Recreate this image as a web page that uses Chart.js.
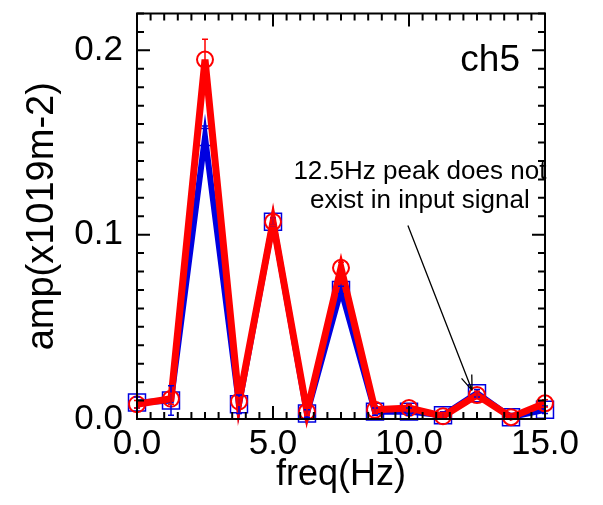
<!DOCTYPE html>
<html>
<head>
<meta charset="utf-8">
<script src="https://cdn.jsdelivr.net/npm/chart.js@4.4.0/dist/chart.umd.min.js"></script>
<style>
  html, body { margin: 0; padding: 0; background: #fff; }
  #wrap { width: 603px; height: 505px; }
</style>
</head>
<body>
<div id="wrap"><canvas id="ampChart" width="603" height="505"></canvas></div>
<script>
// frequencies (Hz)
const freqs = [0, 1.25, 2.5, 3.75, 5, 6.25, 7.5, 8.75, 10, 11.25, 12.5, 13.75, 15];
// red circles
const redAmp = [0.008, 0.011, 0.195, 0.0095, 0.107, 0.004, 0.082, 0.005, 0.006, 0.0015, 0.013, 0.001, 0.0085];
const redErr = [0.002, 0.003, 0.011, 0.002, 0.002, 0.002, 0.003, 0.002, 0.002, 0.002, 0.002, 0.002, 0.002];
// blue squares
const blueAmp = [0.009, 0.010, 0.153, 0.008, 0.107, 0.003, 0.070, 0.004, 0.004, 0.002, 0.014, 0.001, 0.005];
const blueErr = [0.003, 0.008, 0.006, 0.005, 0.002, 0.002, 0.002, 0.002, 0.002, 0.002, 0.002, 0.002, 0.002];

const xTicks = [0, 5, 10, 15];
const yTicks = [0, 0.1, 0.2];

const FONT = "'Liberation Sans', Arial, sans-serif";

function toPts(xs, ys) {
  return xs.map((x, i) => ({ x: x, y: ys[i] }));
}

// error bars, drawn through the scales
const errorBars = {
  id: 'errorBars',
  afterDatasetsDraw(chart) {
    const ctx = chart.ctx;
    const xs = chart.scales.x, ys = chart.scales.y;
    chart.data.datasets.forEach(ds => {
      if (!ds.errors) return;
      ctx.save();
      ctx.strokeStyle = ds.borderColor;
      ctx.lineWidth = 1.5;
      ds.data.forEach((p, i) => {
        const px = xs.getPixelForValue(p.x);
        const top = ys.getPixelForValue(p.y + ds.errors[i]);
        const bot = ys.getPixelForValue(Math.max(0, p.y - ds.errors[i]));
        ctx.beginPath();
        ctx.moveTo(px, top); ctx.lineTo(px, bot);
        ctx.moveTo(px - 3, top); ctx.lineTo(px + 3, top);
        ctx.moveTo(px - 3, bot); ctx.lineTo(px + 3, bot);
        ctx.stroke();
      });
      ctx.restore();
    });
  }
};

// box frame with inward ticks on all sides, plus the notes
const frame = {
  id: 'frame',
  afterDraw(chart) {
    const ctx = chart.ctx;
    const a = chart.chartArea;
    const xs = chart.scales.x, ys = chart.scales.y;
    ctx.save();
    ctx.strokeStyle = '#000';
    ctx.lineWidth = 2;
    ctx.strokeRect(a.left, a.top, a.right - a.left, a.bottom - a.top);
    ctx.beginPath();
    for (let k = 0; k <= 30; k++) {
      const v = k * 0.5;
      const px = xs.getPixelForValue(v);
      const len = k % 10 === 0 ? 13 : 7;
      ctx.moveTo(px, a.bottom); ctx.lineTo(px, a.bottom - len);
      ctx.moveTo(px, a.top); ctx.lineTo(px, a.top + len);
    }
    for (let k = 0; k <= 22; k++) {
      const py = ys.getPixelForValue(k * 0.01);
      const len = k % 10 === 0 ? 13 : 7;
      ctx.moveTo(a.left, py); ctx.lineTo(a.left + len, py);
      ctx.moveTo(a.right, py); ctx.lineTo(a.right - len, py);
    }
    ctx.stroke();

    // channel label
    ctx.fillStyle = '#000';
    ctx.font = '37px ' + FONT;
    ctx.textAlign = 'right';
    ctx.textBaseline = 'alphabetic';
    ctx.fillText('ch5', a.right - 25, a.top + 57);

    // note
    ctx.font = '26px ' + FONT;
    ctx.textAlign = 'center';
    const nx = xs.getPixelForValue(10.4);
    ctx.fillText('12.5Hz peak does not', nx, ys.getPixelForValue(0.130));
    ctx.fillText('exist in input signal', nx, ys.getPixelForValue(0.1145));

    // arrow to the 12.5 Hz point
    const x0 = xs.getPixelForValue(9.96), y0 = ys.getPixelForValue(0.105);
    const x1 = xs.getPixelForValue(12.32), y1 = ys.getPixelForValue(0.0155);
    ctx.lineWidth = 1.3;
    ctx.beginPath();
    ctx.moveTo(x0, y0); ctx.lineTo(x1, y1);
    const ang = Math.atan2(y1 - y0, x1 - x0);
    const hl = 16;
    ctx.moveTo(x1, y1); ctx.lineTo(x1 - hl * Math.cos(ang - 0.35), y1 - hl * Math.sin(ang - 0.35));
    ctx.moveTo(x1, y1); ctx.lineTo(x1 - hl * Math.cos(ang + 0.35), y1 - hl * Math.sin(ang + 0.35));
    ctx.stroke();
    ctx.restore();
  }
};

new Chart(document.getElementById('ampChart'), {
  type: 'line',
  data: {
    datasets: [
      {
        label: 'blue',
        data: toPts(freqs, blueAmp),
        errors: blueErr,
        borderColor: '#0000e0',
        backgroundColor: 'rgba(0,0,0,0)',
        borderWidth: 6,
        pointStyle: 'rect',
        pointRadius: 12,
        pointBorderWidth: 1.5,
        pointBorderColor: '#0000e0',
        clip: false,
        order: 2
      },
      {
        label: 'red',
        data: toPts(freqs, redAmp),
        errors: redErr,
        borderColor: '#ff0000',
        backgroundColor: 'rgba(0,0,0,0)',
        borderWidth: 7,
        pointStyle: 'circle',
        pointRadius: 8,
        pointBorderWidth: 2,
        pointBorderColor: '#ff0000',
        clip: false,
        order: 1
      }
    ]
  },
  options: {
    responsive: false,
    animation: false,
    layout: { padding: { left: 0, right: 58, top: 13, bottom: 0 } },
    plugins: { legend: { display: false }, tooltip: { enabled: false } },
    scales: {
      x: {
        type: 'linear',
        min: 0, max: 15,
        afterBuildTicks: s => { s.ticks = xTicks.map(v => ({ value: v })); },
        afterFit: s => { s.height = 86; s.paddingLeft = 0; s.paddingRight = 0; },
        grid: { display: false, drawTicks: false },
        border: { display: false },
        ticks: { color: '#000', padding: 4, maxRotation: 0, font: { family: FONT, size: 35 }, callback: v => v.toFixed(1) },
        title: { display: true, text: 'freq(Hz)', color: '#000', font: { family: FONT, size: 36 }, padding: { top: 0, bottom: 8 } }
      },
      y: {
        type: 'linear',
        min: 0, max: 0.22,
        afterBuildTicks: s => { s.ticks = yTicks.map(v => ({ value: v })); },
        afterFit: s => { s.width = 137; s.paddingTop = 0; s.paddingBottom = 0; },
        grid: { display: false, drawTicks: false },
        border: { display: false },
        ticks: { color: '#000', padding: 14, font: { family: FONT, size: 35 }, callback: v => v.toFixed(1) },
        title: { display: true, text: 'amp(x1019m-2)', color: '#000', font: { family: FONT, size: 38 }, padding: { top: 20, bottom: 0 } }
      }
    }
  },
  plugins: [errorBars, frame]
});
</script>
</body>
</html>
